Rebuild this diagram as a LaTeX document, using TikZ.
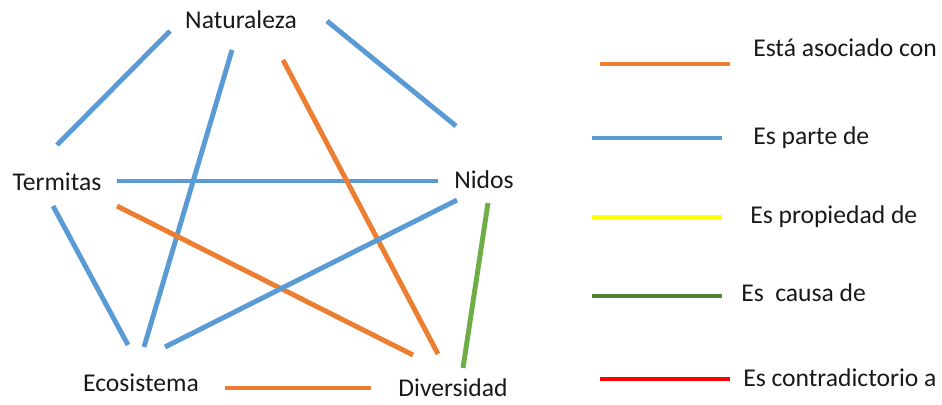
\documentclass[tikz,border=0pt]{standalone}
\usepackage{fontspec}
\setmainfont{Carlito}
\definecolor{corange}{HTML}{ED7D31}
\definecolor{cblue}{HTML}{5B9BD5}
\definecolor{cyellow}{HTML}{FFFF00}
\definecolor{cgreen}{HTML}{70AD47}
\definecolor{cdgreen}{HTML}{548235}
\definecolor{cred}{HTML}{FF0000}
\begin{document}
\begin{tikzpicture}[x=0.75pt,y=-0.75pt,
  lbl/.style={font=\fontsize{19.2}{23}\selectfont, inner sep=0pt, text=black!90},
  link/.style={line width=3.7pt},
  leg/.style={line width=3pt}]
\useasboundingbox (0,0) rectangle (942,404);
% concept nodes
\node[lbl] (nat) at (241,20) {Naturaleza};
\node[lbl] (ter) at (57,182) {Termitas};
\node[lbl] (nid) at (484,180) {Nidos};
\node[lbl] (eco) at (141,383) {Ecosistema};
\node[lbl] (div) at (453,388) {Diversidad};
% connector end points
\coordinate (a1) at (170,31);  \coordinate (a2) at (57,145);
\coordinate (b1) at (232,50);  \coordinate (b2) at (144,347);
\coordinate (c1) at (283,60);  \coordinate (c2) at (438,354);
\coordinate (d1) at (327,21);  \coordinate (d2) at (456,126);
\coordinate (e1) at (117,181); \coordinate (e2) at (438,181);
\coordinate (f1) at (53,206);  \coordinate (f2) at (128,345);
\coordinate (g1) at (117,206); \coordinate (g2) at (413,355);
\coordinate (h1) at (457,200); \coordinate (h2) at (165,347);
\coordinate (i1) at (488,203); \coordinate (i2) at (463,368);
\coordinate (j1) at (225,388); \coordinate (j2) at (371,388);
\draw[link,cblue] (a1) -- (a2);
\draw[link,cblue] (b1) -- (b2);
\draw[link,cblue] (d1) -- (d2);
\draw[link,cblue] (e1) -- (e2);
\draw[link,cblue] (f1) -- (f2);
\draw[link,corange] (c1) -- (c2);
\draw[link,corange] (g1) -- (g2);
\draw[link,cblue] (h1) -- (h2);
\draw[link,cgreen] (i1) -- (i2);
\draw[link,corange] (j1) -- (j2);
% legend
\coordinate (l1a) at (600,64);  \coordinate (l1b) at (730,64);
\coordinate (l2a) at (592,138); \coordinate (l2b) at (722,138);
\coordinate (l3a) at (592,217); \coordinate (l3b) at (722,217);
\coordinate (l4a) at (592,296); \coordinate (l4b) at (722,296);
\coordinate (l5a) at (600,379); \coordinate (l5b) at (730,379);
\draw[leg,corange] (l1a) -- (l1b);
\draw[leg,cblue] (l2a) -- (l2b);
\draw[leg,cyellow] (l3a) -- (l3b);
\draw[leg,cdgreen] (l4a) -- (l4b);
\draw[leg,cred] (l5a) -- (l5b);
\node[lbl,anchor=west] (t1) at (753,48) {Está asociado con};
\node[lbl,anchor=west] (t2) at (753,138) {Es parte de};
\node[lbl,anchor=west] (t3) at (750,217) {Es propiedad de};
\node[lbl,anchor=west] (t4) at (741,293) {Es\ \ causa de};
\node[lbl,anchor=west] (t5) at (743,378) {Es contradictorio a};
\end{tikzpicture}
\end{document}
